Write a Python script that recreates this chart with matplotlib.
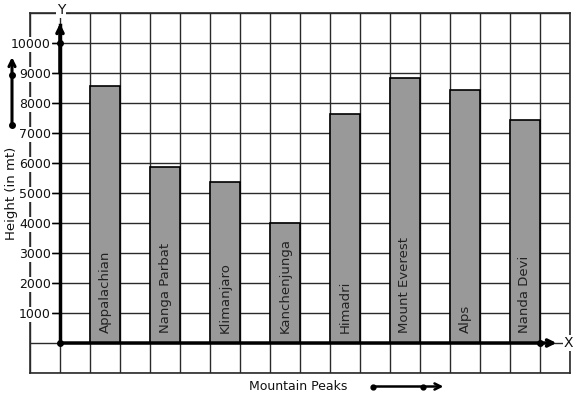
import numpy as np
import matplotlib
matplotlib.use('Agg')
import matplotlib.pyplot as plt

# 数据
peaks = ['Appalachian', 'Nanga Parbat', 'Klimanjaro', 'Kanchenjunga',
         'Himadri', 'Mount Everest', 'Alps', 'Nanda Devi']
heights = [8570, 5860, 5360, 4000, 7620, 8820, 8450, 7420]
y_ticks = [1000, 2000, 3000, 4000, 5000, 6000, 7000, 8000, 9000, 10000]

plt.rcParams['font.family'] = ['DejaVu Sans']

W, H = 577, 399
fig = plt.figure(figsize=(W / 100, H / 100), dpi=100)
ax = fig.add_axes([30 / W, (H - 373) / H, 540 / W, 360 / H])

grid_kw = dict(color='#2a2a2a', linewidth=1.0)

# 坐标格 (每格 1000)
ax.set_xlim(-1, 17)
ax.set_ylim(-1000, 11000)
ax.set_xticks([])
ax.set_xticks(np.arange(-1, 18), minor=True)
ax.set_yticks(y_ticks)
ax.set_yticks([-1000, 0, 11000], minor=True)
ax.xaxis.grid(True, which='minor', **grid_kw)
ax.yaxis.grid(True, which='both', **grid_kw)
ax.tick_params(which='minor', length=0)
ax.set_axisbelow(True)
ax.axvline(-1, color='#2a2a2a', linewidth=1.2, clip_on=False, zorder=0.3)
for s in ['right', 'top', 'bottom']:
    ax.spines[s].set_color('#2a2a2a')
    ax.spines[s].set_linewidth(1.2)

# Y 轴
ax.spines['left'].set_position(('data', 0))
ax.spines['left'].set_bounds(0, 10600)
ax.spines['left'].set_linewidth(2.5)
ax.spines['left'].set_zorder(5)
ax.set_yticklabels([str(v) for v in y_ticks], fontsize=9, color='#111111')
ax.tick_params(axis='y', which='major', length=6, width=1, pad=0.5)
for lbl in ax.get_yticklabels():
    lbl.set_bbox(dict(facecolor='white', edgecolor='none', pad=0.6))

# 柱子
x = np.arange(len(peaks)) * 2 + 1.5
ax.bar(x, heights, width=1.0, color='#999999', edgecolor='black',
       linewidth=1.2, zorder=3)
for xi, name in zip(x, peaks):
    ax.text(xi, 330, name, rotation=90, ha='center', va='bottom',
            fontsize=9.5, color='#222222', zorder=4)

# X 轴与箭头
ax.annotate('', xy=(16.55, 0), xytext=(0, 0), zorder=6,
            arrowprops=dict(arrowstyle='->', lw=2.5, color='black',
                            mutation_scale=11, shrinkA=0, shrinkB=0))
ax.annotate('', xy=(0, 10650), xytext=(0, 9000), zorder=6,
            arrowprops=dict(arrowstyle='->', lw=2.5, color='black',
                            mutation_scale=11, shrinkA=0, shrinkB=0))
ax.plot([0, 0, 16], [0, 10000, 0], 'o', color='black', markersize=4, zorder=7)
ax.text(16.95, 0, 'X', ha='center', va='center', fontsize=10, color='#111111',
        bbox=dict(facecolor='white', edgecolor='none', pad=0.5))
ax.text(0.03, 11100, 'Y', ha='center', va='center', fontsize=10,
        color='#111111', clip_on=False,
        bbox=dict(facecolor='white', edgecolor='none', pad=0.5))

# 左侧箭头
ax.annotate('', xy=(-1.6, 9530), xytext=(-1.6, 7270), annotation_clip=False,
            arrowprops=dict(arrowstyle='->', lw=2.2, color='black',
                            mutation_scale=11, shrinkA=0, shrinkB=0))
ax.plot([-1.6, -1.6], [7270, 8930], 'o', color='black', markersize=4,
        clip_on=False, zorder=7)
ax.text(-1.6, 5000, 'Height (in mt)', rotation=90, ha='center', va='center',
        fontsize=9.5, color='#111111')

# 底部箭头
ax.text(7.95, -1450, 'Mountain Peaks', ha='center', va='center',
        fontsize=9, color='#111111')
ax.annotate('', xy=(12.78, -1450), xytext=(10.43, -1450), annotation_clip=False,
            arrowprops=dict(arrowstyle='->', lw=1.8, color='black',
                            mutation_scale=11, shrinkA=0, shrinkB=0))
ax.plot([10.43, 12.1], [-1450, -1450], 'o', color='black', markersize=3.5,
        clip_on=False, zorder=7)

fig.savefig('out.png', dpi=100)
